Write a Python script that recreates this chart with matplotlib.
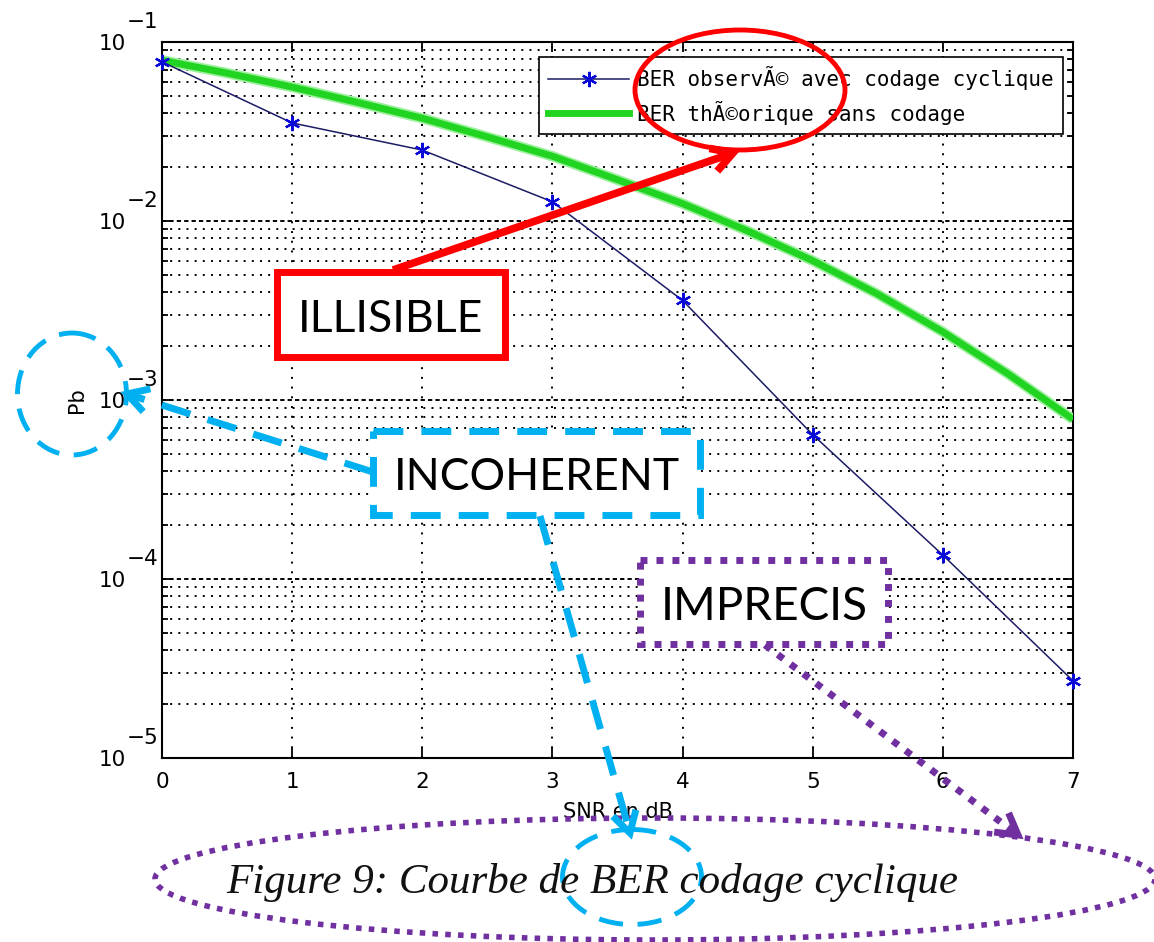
import numpy as np
import matplotlib
matplotlib.use("Agg")
import matplotlib.pyplot as plt
from matplotlib import transforms
from matplotlib.lines import Line2D
from matplotlib.patches import Rectangle, Ellipse
from matplotlib.ticker import LogLocator, NullFormatter, FixedLocator

# ---- data -------------------------------------------------------------
snr_db = [0, 1, 2, 3, 4, 5, 6, 7]
ber_coded = [0.0775, 0.0353, 0.0249, 0.0128, 0.0036, 6.4e-4, 1.36e-4, 2.7e-5]

snr_theory = [0, 0.5, 1, 1.5, 2, 2.5, 3, 3.5, 4, 4.5, 5, 5.5, 6, 6.5, 7]
ber_theory = [0.079, 0.067, 0.056, 0.046, 0.0375, 0.0295, 0.023, 0.017,
              0.0125, 0.0088, 0.006, 0.0039, 0.0024, 0.0014, 0.00078]

x_ticks = [0, 1, 2, 3, 4, 5, 6, 7]
y_ticks = [1e-5, 1e-4, 1e-3, 1e-2, 1e-1]

legend_labels = ["BER observÃ© avec codage cyclique", "BER thÃ©orique sans codage"]
x_label = "SNR en dB"
y_label = "Pb"
caption = "Figure 9: Courbe de BER codage cyclique"

note_red = "ILLISIBLE"
note_blue = "INCOHERENT"
note_purple = "IMPRECIS"

# ---- figure -----------------------------------------------------------
W, H = 1154, 942
fig = plt.figure(figsize=(W / 100, H / 100), dpi=100)
fig.patch.set_facecolor("white")

L, R, T, B = 162, 1073, 42, 758
ax = fig.add_axes([L / W, 1 - B / H, (R - L) / W, (B - T) / H])
ax.set_yscale("log")
ax.set_xlim(0, 7)
ax.set_ylim(1e-5, 1e-1)

ax.xaxis.set_major_locator(FixedLocator(x_ticks))
ax.yaxis.set_major_locator(FixedLocator(y_ticks))
ax.yaxis.set_minor_locator(LogLocator(base=10, subs=range(2, 10), numticks=20))
ax.yaxis.set_minor_formatter(NullFormatter())
ax.set_yticklabels([])
ax.set_xticks(x_ticks)
ax.set_xticklabels([str(v) for v in x_ticks], fontsize=15.5)

ax.tick_params(which="both", direction="in", top=True, right=True, width=1.3, colors="black")
ax.tick_params(which="major", length=7.5, pad=10)
ax.tick_params(which="minor", length=4.5)
for s in ax.spines.values():
    s.set_linewidth(1.5)

# MATLAB-like dotted grid
ax.grid(which="minor", axis="y", color="black", lw=1.4, ls=(0, (1, 3.2)))
ax.grid(which="major", axis="y", color="black", lw=1.4, ls=(0, (2.2, 1.6)))
ax.grid(which="major", axis="x", color="black", lw=1.4, ls=(0, (1, 4)))

# y tick labels drawn as 10 with a raised exponent
ytrans = transforms.blended_transform_factory(ax.transAxes, ax.transData)
for v in y_ticks:
    e = int(round(np.log10(v)))
    ax.text(0, v, "10", transform=transforms.offset_copy(ytrans, fig, x=-36, y=-2, units="dots"),
            ha="right", va="center", fontsize=15.5, clip_on=False)
    ax.text(0, v, "\u2212%d" % abs(e),
            transform=transforms.offset_copy(ytrans, fig, x=-35, y=20, units="dots"),
            ha="left", va="center", fontsize=15.5, clip_on=False)

# curves
ax.plot(snr_theory, ber_theory, color="#9ef09e", lw=7.5, solid_capstyle="butt", zorder=3)
ax.plot(snr_theory, ber_theory, color="#22d422", lw=5, solid_capstyle="butt", zorder=3)
ax.plot(snr_db, ber_coded, color="#1c1c66", lw=1.1, marker=(6, 2, 0), markersize=11,
        markeredgewidth=1.6, markeredgecolor="#0a0ad8", zorder=4, clip_on=False)

ax.set_xlabel(x_label, fontsize=15, va="center")
ax.xaxis.set_label_coords(0.5, -(812 - B) / (B - T))
ax.set_ylabel(y_label, fontsize=15, va="center")
ax.yaxis.set_label_coords(-(L - 77) / (R - L), 0.5)

h_coded = Line2D([], [], color="#1c1c66", lw=1.1, marker=(6, 2, 0), markersize=11,
                 markeredgewidth=1.6, markeredgecolor="#0a0ad8")
h_theory = Line2D([], [], color="#22d422", lw=5)
leg = ax.legend([h_coded, h_theory], legend_labels, loc="upper right",
                bbox_to_anchor=(1063 / W, 1 - 57 / H), bbox_transform=fig.transFigure,
                prop={"family": "DejaVu Sans Mono", "size": 15}, handlelength=3.85,
                handletextpad=0.4, borderpad=0.45, labelspacing=0.5, borderaxespad=0,
                fancybox=False, framealpha=1, edgecolor="black", numpoints=1)
leg.get_frame().set_linewidth(1.2)
leg.set_zorder(6)

# ---- annotation layer (pixel coordinates) -----------------------------
ov = fig.add_axes([0, 0, 1, 1], zorder=10)
ov.set_xlim(0, W)
ov.set_ylim(H, 0)
ov.axis("off")
ov.patch.set_alpha(0)

RED, BLUE, PURPLE = "#ff0000", "#00b0f0", "#7030a0"
DASH = (0, (4.3, 2.6))
DOT = (0, (1.0, 1.3))


def arrow(p0, p1, color, ls, lw=5, head=24, spread=30):
    x0, y0 = p0
    x1, y1 = p1
    ov.plot([x0, x1], [y0, y1], color=color, lw=lw, ls=ls,
            solid_capstyle="butt", dash_capstyle="butt")
    ang = np.arctan2(y1 - y0, x1 - x0)
    arms = [(x1 + head * np.cos(ang + np.pi + s * np.radians(spread)),
             y1 + head * np.sin(ang + np.pi + s * np.radians(spread))) for s in (1, -1)]
    ov.plot([arms[0][0], x1, arms[1][0]], [arms[0][1], y1, arms[1][1]], color=color, lw=lw,
            solid_joinstyle="miter", solid_capstyle="butt")


def note_box(x0, y0, x1, y1, text, color, ls, size):
    ov.add_patch(Rectangle((x0, y0), x1 - x0, y1 - y0, facecolor="white", edgecolor=color,
                           lw=5, ls=ls, joinstyle="miter", capstyle="butt"))
    ov.text((x0 + x1) / 2, (y0 + y1) / 2 + 1, text, ha="center", va="center_baseline",
            family="Lato", fontsize=size, color="black")


# caption
ov.text(592, 893, caption, ha="center", va="baseline", family="Liberation Serif",
        style="italic", fontsize=31, color="#111111")

# red: illegible legend
ov.add_patch(Ellipse((740, 90), 210, 120, fill=False, edgecolor=RED, lw=3.5))
arrow((393, 270), (733, 153), RED, "-", lw=5.5)
note_box(277, 272, 505, 357, note_red, RED, "-", 32)

# blue: incoherent labels
ov.add_patch(Ellipse((72, 394), 109, 122, fill=False, edgecolor=BLUE, lw=3.5, ls=(0, (5, 3))))
ov.add_patch(Ellipse((632, 877), 139, 95, fill=False, edgecolor=BLUE, lw=3.5, ls=(0, (5, 3))))
arrow((373, 472), (127, 394), BLUE, DASH)
arrow((540, 516), (630, 833), BLUE, DASH)
note_box(373, 431, 700, 515, note_blue, BLUE, DASH, 32)

# purple: imprecise caption
ov.add_patch(Ellipse((655, 879), 1000, 122, fill=False, edgecolor=PURPLE, lw=4, ls=(0, (1, 1.3))))
arrow((765, 645), (1018, 835), PURPLE, DOT)
note_box(640, 560, 888, 644, note_purple, PURPLE, DOT, 33)

fig.savefig("out.png", dpi=100, facecolor="white")
